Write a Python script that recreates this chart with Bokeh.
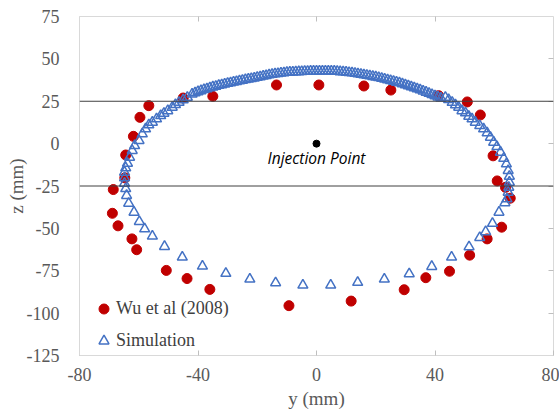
from bokeh.plotting import figure
from bokeh.models import (Range1d, Span, Legend, LegendItem, LinearAxis,
                          FixedTicker, Label)
from bokeh.embed import file_html
from bokeh.resources import INLINE

# ---------------- data ----------------
x_ticks = [-80, -40, 0, 40, 80]
z_ticks = [-125, -100, -75, -50, -25, 0, 25, 50, 75]

wu_y = [-56.6, -59.6, -61.8, -64.4, -64.7, -68.6, -68.9, -67.0, -62.3, -60.7,
        -50.7, -43.7, -36.0, -9.3, 11.7, 29.6, 36.9, 44.9, 51.7, 57.6,
        62.5, 65.4, 63.8, 61.0, 59.6, 55.3, 50.9, 41.2, 25.1, 16.0,
        0.8, -13.5, -35.0, -45.0]
wu_z = [22.4, 15.5, 4.3, -6.7, -20.2, -27.1, -41.1, -48.5, -56.2, -62.6,
        -74.8, -79.6, -86.0, -95.6, -92.9, -86.2, -79.1, -75.3, -65.8, -56.2,
        -49.3, -32.2, -25.8, -22.0, -7.2, 16.9, 24.6, 28.3, 31.6, 34.0,
        34.6, 34.6, 27.9, 26.9]

# simulation: bottom-left -> left side -> top arc -> right side -> bottom-right
sim_left_y = [-4.6, -13.8, -22.5, -30.6, -38.5, -45.3, -51.3, -55.4, -58.0, -59.8,
              -61.6, -63.4, -64.1, -64.4, -64.8, -64.8, -64.8, -64.4, -63.8, -63.1,
              -62.2, -61.4, -59.9, -58.8, -57.7, -56.6, -55.4, -54.0, -52.6, -51.5,
              -50.2, -48.7, -47.6, -46.4, -45.0, -43.6]
sim_left_z = [-83.5, -82.1, -80.0, -76.6, -72.3, -67.0, -60.7, -54.6, -50.3, -46.0,
              -40.5, -35.2, -30.6, -26.6, -23.4, -20.2, -16.9, -14.3, -11.6, -8.1,
              -4.1, -1.2, 1.8, 5.7, 8.7, 11.0, 12.6, 14.6, 16.5, 17.9,
              19.4, 21.4, 23.0, 24.3, 25.8, 27.3]
sim_top_y = [-42, -41, -40, -39, -38, -37, -36, -35, -34, -33, -32, -31, -30, -29,
             -28, -27, -26, -25, -24, -23, -22, -21, -20, -19, -18, -17, -16, -15,
             -14, -13, -12, -11, -10, -9, -8, -7, -6, -5, -4, -3, -2, -1, 0,
             1, 2, 3, 4, 5, 6, 7, 8, 9, 10, 11, 12, 13, 14, 15, 16, 17, 18, 19,
             20, 21, 22, 23, 24, 25, 26, 27, 28, 29, 30, 31, 32, 33, 34, 35, 36,
             37, 38, 39, 40, 41, 42]
sim_top_z = [29.2, 29.9, 30.6, 31.2, 31.8, 32.3, 32.9, 33.4, 33.8, 34.3, 34.7, 35.1,
             35.5, 35.9, 36.3, 36.6, 37.0, 37.3, 37.7, 38.0, 38.4, 38.7, 39.1, 39.4,
             39.8, 40.1, 40.5, 40.8, 41.1, 41.3, 41.6, 41.8, 42.0, 42.1, 42.2, 42.3,
             42.4, 42.5, 42.6, 42.6, 42.7, 42.7, 42.7,
             42.8, 42.8, 42.8, 42.8, 42.8, 42.7, 42.6, 42.4, 42.3, 42.1, 41.9, 41.7,
             41.4, 41.2, 40.9, 40.6, 40.3, 40.0, 39.6, 39.3, 38.9, 38.5, 38.1, 37.6,
             37.2, 36.7, 36.2, 35.8, 35.2, 34.7, 34.1, 33.5, 32.9, 32.3, 31.7, 31.0,
             30.3, 29.6, 28.9, 28.2, 27.5, 26.8]
sim_right_y = [43.5, 44.6, 45.8, 46.9, 48.0, 49.1, 50.3, 51.4, 52.5, 53.6,
               55.1, 56.4, 57.6, 58.7, 59.8, 60.9, 62.1, 63.2, 64.1, 64.7,
               65.1, 65.1, 64.9, 64.7, 64.3, 63.6, 61.6, 59.4, 57.1, 55.1,
               51.5, 45.6, 38.9, 31.3, 22.9, 13.9, 4.8]
sim_right_z = [27.3, 25.9, 24.3, 22.8, 21.4, 19.4, 18.1, 16.1, 14.6, 12.6,
               10.6, 8.7, 6.3, 3.7, 0.8, -1.8, -5.1, -8.7, -12.0, -15.9,
               -19.3, -22.8, -25.8, -28.7, -32.6, -34.9, -40.5, -47.1, -52.0, -55.4,
               -60.9, -67.0, -72.5, -76.8, -80.0, -81.9, -83.5]
sim_y = sim_left_y + sim_top_y + sim_right_y
sim_z = sim_left_z + sim_top_z + sim_right_z

inj_y = [0]
inj_z = [0]
band_z = [25, -25]

# ---------------- style ----------------
SERIF = "Liberation Serif"
GRAY_TXT = "#595959"
FRAME = "#D9D9D9"
TICK = "#BFBFBF"

p = figure(width=559, height=413, output_backend="svg", toolbar_location=None,
           x_range=Range1d(-80, 80), y_range=Range1d(-125, 75),
           min_border_left=79, min_border_right=6, min_border_top=16,
           min_border_bottom=58)
p.outline_line_color = FRAME
p.grid.visible = False
p.background_fill_color = "white"

# bottom axis
xa = p.xaxis[0]
xa.ticker = FixedTicker(ticks=x_ticks)
xa.major_label_overrides = {t: str(t) for t in x_ticks}
xa.major_tick_in = 5
xa.major_tick_out = 0
xa.minor_tick_line_color = None
xa.major_tick_line_color = TICK
xa.axis_line_color = FRAME
xa.major_label_text_font = SERIF
xa.major_label_text_font_size = "18px"
xa.major_label_text_color = GRAY_TXT
xa.major_label_standoff = 12
xa.axis_label = "y (mm)"
xa.axis_label_text_font = SERIF
xa.axis_label_text_font_size = "19px"
xa.axis_label_text_font_style = "normal"
xa.axis_label_text_color = GRAY_TXT
xa.axis_label_standoff = 4

# left axis
ya = p.yaxis[0]
ya.ticker = FixedTicker(ticks=z_ticks)
ya.major_label_overrides = {t: str(t) for t in z_ticks}
ya.major_tick_in = 0
ya.major_tick_out = 0
ya.minor_tick_line_color = None
ya.axis_line_color = FRAME
ya.major_label_text_font = SERIF
ya.major_label_text_font_size = "18px"
ya.major_label_text_color = GRAY_TXT
ya.major_label_standoff = 20
ya.axis_label = "z (mm)"
ya.axis_label_text_font = SERIF
ya.axis_label_text_font_size = "19px"
ya.axis_label_text_font_style = "normal"
ya.axis_label_text_color = GRAY_TXT
ya.axis_label_standoff = -3

# top and right tick-only axes (no labels drawn)
top_ax = LinearAxis(ticker=FixedTicker(ticks=x_ticks[1:-1]), major_tick_in=5,
                    major_tick_out=0, minor_tick_line_color=None,
                    major_tick_line_color=TICK, axis_line_color=None,
                    major_label_text_font_size="0px",
                    major_label_text_color=None, major_label_standoff=0)
p.add_layout(top_ax, "above")
right_ax = LinearAxis(ticker=FixedTicker(ticks=z_ticks[1:-1]), major_tick_in=5,
                      major_tick_out=0, minor_tick_line_color=None,
                      major_tick_line_color=TICK, axis_line_color=None,
                      major_label_text_font_size="0px",
                      major_label_text_color=None, major_label_standoff=0)
p.add_layout(right_ax, "right")

for zb in band_z:
    p.add_layout(Span(location=zb, dimension="width", line_color="#404040",
                      line_width=1))

r_wu = p.scatter(wu_y, wu_z, marker="circle", size=10, fill_color="#C00000",
                 line_color="#C00000")
r_sim = p.scatter(sim_y, sim_z, marker="triangle", size=10, fill_color=None,
                  line_color="#4472C4", line_width=1.5)
p.scatter(inj_y, inj_z, marker="circle", size=7, fill_color="black",
          line_color="black")
p.add_layout(Label(x=inj_y[0], y=inj_z[0], text="Injection Point",
                   text_font="Open Sans", text_font_style="italic",
                   text_font_size="15.5px", text_color="black",
                   text_align="center", text_baseline="middle", y_offset=-14))

legend = Legend(items=[LegendItem(label="Wu et al (2008)", renderers=[r_wu]),
                       LegendItem(label="Simulation", renderers=[r_sim])],
                location=(12, 2), label_text_font=SERIF,
                label_text_font_size="18px", label_text_color="#404040",
                glyph_width=25, glyph_height=25, label_height=25, spacing=7,
                padding=0, margin=0, border_line_color=None,
                background_fill_alpha=0, label_standoff=-2)
p.add_layout(legend)

open("out.html", "w").write(file_html(p, INLINE))
